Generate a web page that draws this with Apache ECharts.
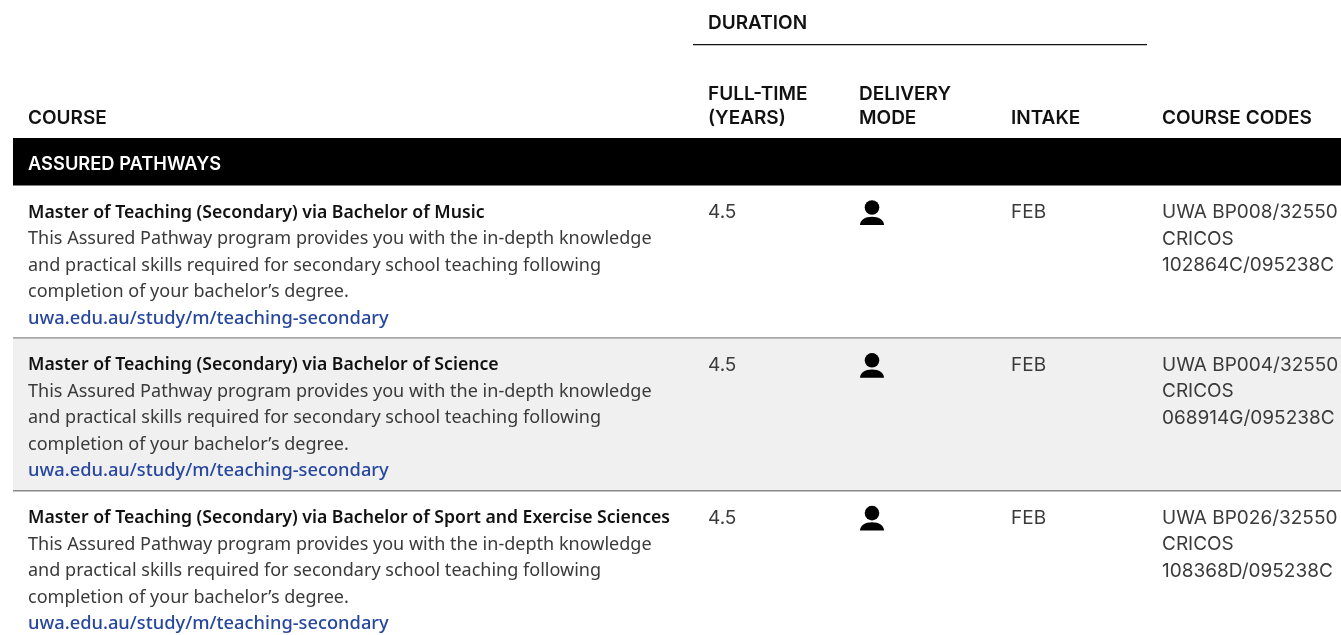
<!DOCTYPE html>
<html><head><meta charset="utf-8">
<style>html,body{margin:0;padding:0;background:#fff}#c{width:1341px;height:635px}</style>
<script src="https://cdn.jsdelivr.net/npm/echarts@6/dist/echarts.min.js"></script>
</head><body><div id="c"></div>
<script>
const courseTitles = [
  "Master of Teaching (Secondary) via Bachelor of Music",
  "Master of Teaching (Secondary) via Bachelor of Science",
  "Master of Teaching (Secondary) via Bachelor of Sport and Exercise Sciences"
];
const descriptionLines = [
  "This Assured Pathway program provides you with the in-depth knowledge",
  "and practical skills required for secondary school teaching following",
  "completion of your bachelor’s degree."
];
const courseLink = "uwa.edu.au/study/m/teaching-secondary";
const durations = ["4.5", "4.5", "4.5"];
const intakes = ["FEB", "FEB", "FEB"];
const courseCodes = ["UWA BP008/32550", "UWA BP004/32550", "UWA BP026/32550"];
const cricosLabel = "CRICOS";
const cricosCodes = ["102864C/095238C", "068914G/095238C", "108368D/095238C"];
const groupHeading = "ASSURED PATHWAYS";
const spanHeading = "DURATION";
const columnHeadings = [["COURSE"], ["FULL-TIME", "(YEARS)"], ["DELIVERY", "MODE"], ["INTAKE"], ["COURSE CODES"]];

const FONT = '"Noto Sans"', CAPS = 'Inter';
const BODY = 18.05, BOLD = 17.65, HEAD = 19, CODE = 19;
const INK = '#3a3a3a', LINK = '#27479f';
const COLX = [28, 708, 859, 1011, 1162];
const LH = 26.45;

function txt(x, y, s, o) {
  return { type: 'text', style: Object.assign({ x, y, text: s, fontFamily: FONT, fontSize: BODY, fill: INK, verticalAlign: 'middle', align: 'left' }, o || {}) };
}
function renderRow(params, api) {
  const r = api.value(0);
  const c = api.coord([0, r]);
  const h = api.size([0, 1])[1];
  const top = c[1] - h / 2;
  const bgLeft = 13;
  const kids = [];
  if (r === 1) kids.push({ type: 'rect', shape: { x: bgLeft, y: top, width: 1341 - bgLeft, height: h }, style: { fill: '#f0f0f0' } });
  if (r < 2) kids.push({ type: 'rect', shape: { x: bgLeft, y: top + h - 1.5, width: 1341 - bgLeft, height: 1.5 }, style: { fill: '#8c8c8c' } });
  const y0 = top + 26.5;
  const code = { fontFamily: CAPS, fontSize: CODE };
  kids.push(txt(api.coord([COLX[0], r])[0], y0, courseTitles[r], { fontWeight: 600, fill: '#111', fontSize: BOLD }));
  descriptionLines.forEach((l, i) => kids.push(txt(COLX[0], y0 + LH * (i + 1), l)));
  kids.push(txt(COLX[0], y0 + LH * 4, courseLink, { fill: LINK, fontWeight: 500, fontSize: 18.3 }));
  kids.push(txt(COLX[1], y0, durations[r], code));
  const ix = COLX[2], iy = top + 14;
  kids.push({ type: 'circle', shape: { cx: ix + 13, cy: iy + 7.5, r: 7.3 }, style: { fill: '#000' } });
  kids.push({ type: 'path', shape: { pathData: `M${ix+1} ${iy+25} C${ix+1} ${iy+20} ${ix+6} ${iy+16.7} ${ix+13} ${iy+16.7} C${ix+20} ${iy+16.7} ${ix+25} ${iy+20} ${ix+25} ${iy+25} Z` }, style: { fill: '#000' } });
  kids.push(txt(COLX[3], y0, intakes[r], code));
  kids.push(txt(COLX[4], y0, courseCodes[r], code));
  kids.push(txt(COLX[4], y0 + LH, cricosLabel, code));
  kids.push(txt(COLX[4], y0 + LH * 2, cricosCodes[r], code));
  return { type: 'group', children: kids };
}
const headStyle = { fontFamily: CAPS, fontSize: HEAD, fontWeight: 600, fill: '#111', verticalAlign: 'middle' };
const graphics = [
  { type: 'rect', shape: { x: 13, y: 138, width: 1328, height: 47.5 }, style: { fill: '#000' } },
  { type: 'text', style: Object.assign({}, headStyle, { x: 28, y: 164.5, text: groupHeading, fill: '#fff', fontSize: 18.3 }) },
  { type: 'text', style: Object.assign({}, headStyle, { x: COLX[1], y: 23, text: spanHeading }) },
  { type: 'rect', shape: { x: 693, y: 44, width: 454, height: 1.3 }, style: { fill: '#111' } }
];
columnHeadings.forEach((lines, i) => {
  lines.forEach((l, j) => {
    const y = 118 - (lines.length - 1 - j) * 24;
    graphics.push({ type: 'text', style: Object.assign({}, headStyle, { x: COLX[i], y, text: l }) });
  });
});
const chart = echarts.init(document.getElementById('c'), null, { renderer: 'canvas' });
chart.setOption({
  animation: false,
  grid: { left: 0, right: 0, top: 186, height: 458.4, outerBoundsMode: 'none' },
  xAxis: { type: 'value', min: 0, max: 1341, show: false },
  yAxis: { type: 'category', inverse: true, data: courseTitles.map((_, i) => i), show: false },
  graphic: graphics,
  series: [{ type: 'custom', clip: false, renderItem: renderRow, data: courseTitles.map((_, i) => [i]), encode: { x: -1, y: 0 } }]
});
</script></body></html>
